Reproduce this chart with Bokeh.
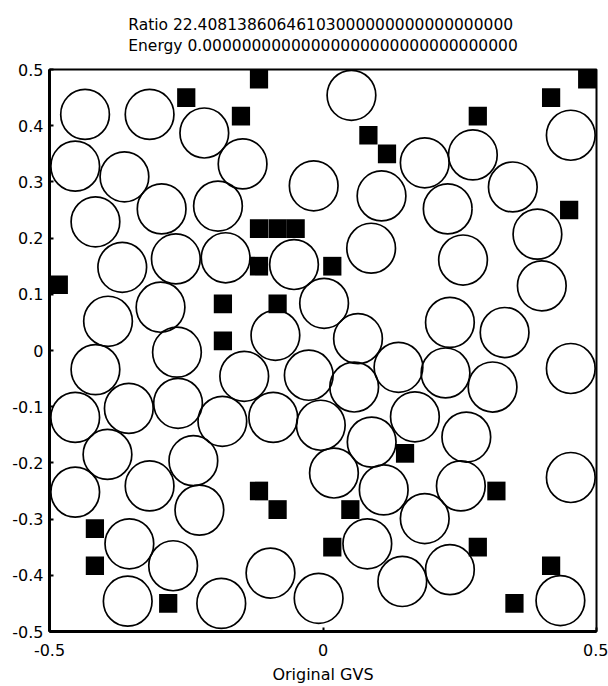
from bokeh.plotting import figure
from bokeh.models import Range1d, FixedTicker, CustomJSTickFormatter
from bokeh.embed import file_html
from bokeh.resources import INLINE

title_lines = ["Ratio 22.40813860646103000000000000000000",
               "Energy 0.00000000000000000000000000000000"]
x_label = "Original GVS"
x_ticks = [-0.5, 0, 0.5]
y_ticks = [-0.5, -0.4, -0.3, -0.2, -0.1, 0, 0.1, 0.2, 0.3, 0.4, 0.5]

circle_x = [-0.435, -0.317, -0.217, -0.453, -0.363, -0.147, -0.416, -0.295, -0.192, -0.367,
            -0.269, -0.178, -0.053, -0.297, -0.393, -0.087, 0.002, 0.052, 0.453, 0.186,
            0.274, -0.017, 0.107, 0.347, 0.228, 0.392, 0.088, 0.256, 0.400, 0.064,
            0.232, 0.332, -0.267, -0.416, -0.144, -0.453, -0.355, -0.265, -0.184, -0.091,
            -0.394, -0.237, -0.453, -0.317, -0.226, -0.354, -0.274, -0.357, -0.186, -0.096,
            0.453, 0.138, 0.224, 0.057, 0.310, -0.026, -0.004, 0.168, 0.089, 0.262,
            0.020, 0.111, 0.252, 0.453, 0.186, 0.081, 0.145, 0.232, 0.434, -0.008]
circle_y = [0.420, 0.420, 0.387, 0.328, 0.309, 0.332, 0.229, 0.252, 0.257, 0.148,
            0.163, 0.165, 0.153, 0.077, 0.052, 0.027, 0.084, 0.454, 0.383, 0.334,
            0.348, 0.293, 0.275, 0.291, 0.252, 0.207, 0.182, 0.161, 0.115, 0.021,
            0.050, 0.032, -0.003, -0.034, -0.046, -0.119, -0.103, -0.094, -0.126, -0.119,
            -0.185, -0.196, -0.252, -0.241, -0.284, -0.344, -0.383, -0.446, -0.450, -0.396,
            -0.032, -0.030, -0.040, -0.065, -0.065, -0.044, -0.133, -0.118, -0.163, -0.154,
            -0.218, -0.248, -0.241, -0.226, -0.299, -0.344, -0.411, -0.390, -0.445, -0.441]

square_x = [-0.250, -0.117, -0.150, -0.117, -0.083, -0.050, -0.117, -0.483, -0.183, -0.083,
            -0.183, 0.483, 0.417, 0.283, 0.083, 0.117, 0.450, 0.017, -0.417, -0.417,
            -0.283, -0.117, -0.083, 0.150, 0.317, 0.050, 0.017, 0.283, 0.417, 0.350]
square_y = [0.450, 0.483, 0.417, 0.217, 0.217, 0.217, 0.150, 0.117, 0.083, 0.083,
            0.017, 0.483, 0.450, 0.417, 0.383, 0.350, 0.250, 0.150, -0.317, -0.383,
            -0.450, -0.250, -0.283, -0.183, -0.250, -0.283, -0.350, -0.350, -0.383, -0.450]

FONT = "DejaVu Sans"

p = figure(width=608, height=686, output_backend="svg", toolbar_location=None,
           x_range=Range1d(-0.5, 0.5), y_range=Range1d(-0.5, 0.5),
           min_border_left=49, min_border_right=12, min_border_top=68, min_border_bottom=54)

p.title.text = "\n".join(title_lines)
p.title.align = "center"
p.title.text_font = FONT
p.title.text_font_size = "15.5px"
p.title.text_font_style = "normal"
p.title.text_color = "black"
p.title.text_line_height = 1.19
p.title.standoff = 28

p.background_fill_color = "white"
p.border_fill_color = "white"
p.outline_line_color = "black"
p.outline_line_width = 2
p.xgrid.visible = False
p.ygrid.visible = False

fmt = CustomJSTickFormatter(code="return Math.abs(tick) < 1e-9 ? '0' : tick.toFixed(1);")
p.xaxis.ticker = FixedTicker(ticks=x_ticks)
p.yaxis.ticker = FixedTicker(ticks=y_ticks)
for ax in (p.xaxis[0], p.yaxis[0]):
    ax.formatter = fmt
    ax.axis_line_width = 3
    ax.axis_line_color = "black"
    ax.major_tick_in = 4
    ax.major_tick_out = 0
    ax.major_tick_line_width = 2
    ax.major_tick_line_color = "black"
    ax.minor_tick_line_color = None
    ax.major_label_text_font = FONT
    ax.major_label_text_font_size = "16px"
    ax.major_label_text_color = "black"
p.yaxis.major_label_standoff = 6
p.xaxis.major_label_standoff = 12
p.xaxis.axis_label = x_label
p.xaxis.axis_label_text_font = FONT
p.xaxis.axis_label_text_font_size = "16px"
p.xaxis.axis_label_text_font_style = "normal"
p.xaxis.axis_label_text_color = "black"
p.xaxis.axis_label_standoff = 6

p.ellipse(x=circle_x, y=circle_y, width=0.089, height=0.089,
          fill_color=None, line_color="black", line_width=1.7)
p.rect(x=square_x, y=square_y, width=1/30, height=1/30,
       fill_color="black", line_color=None)

open("out.html", "w").write(file_html(p, INLINE))
